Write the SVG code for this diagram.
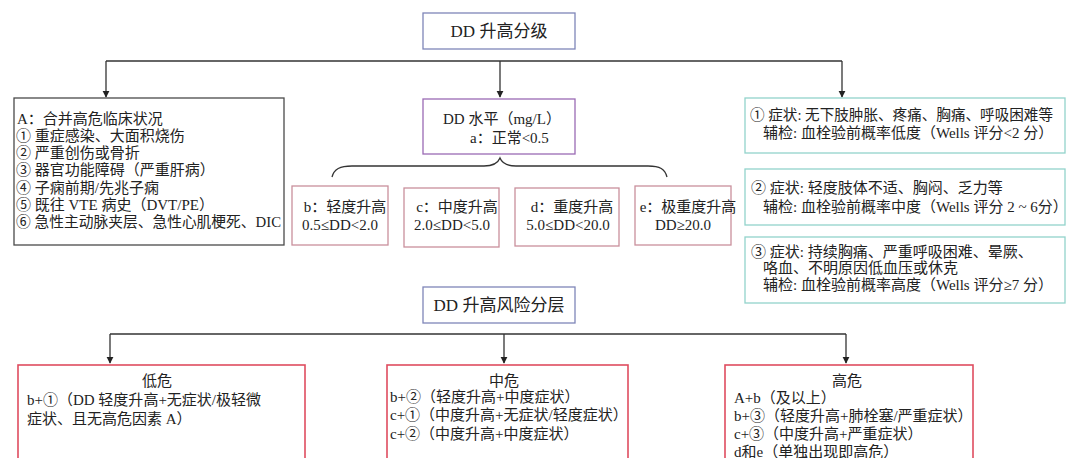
<svg xmlns="http://www.w3.org/2000/svg" width="1080" height="458" viewBox="0 0 1080 458">
<defs>
<style>
text{font-family:"Liberation Serif","Noto Sans CJK SC",serif;fill:#222;font-size:15px}
.t{font-size:17px}
.m{text-anchor:middle}
.box{fill:#fff;stroke-width:1.3}
.title{stroke:#7f86b8}
.purple{stroke:#9a6ab4}
.gray{stroke:#4a4a4a}
.teal{stroke:#92d3cb}
.pink{stroke:#c9909c}
.red{stroke:#df4d5f;stroke-width:1.6}
.ln{fill:none;stroke:#333;stroke-width:1.3}
</style>
<marker id="ah" viewBox="0 0 10 10" refX="9" refY="5" markerWidth="7" markerHeight="8" markerUnits="userSpaceOnUse" orient="auto">
<path d="M0,0 L10,5 L0,10 z" fill="#222"/>
</marker>
</defs>
<rect width="1080" height="458" fill="#fff"/>

<g id="connectors">
<path class="ln" d="M106,61 H842"/>
<path class="ln" d="M106,61 V97" marker-end="url(#ah)"/>
<path class="ln" d="M500,61 V97" marker-end="url(#ah)"/>
<path class="ln" d="M842,61 V97" marker-end="url(#ah)"/>
<path class="ln" d="M332,177 C334,169 340,166 352,166 L484,166 C494,166 498,163 500,158 C502,163 506,166 516,166 L648,166 C660,166 665,169 667,177"/>
<path class="ln" d="M110,334 H846"/>
<path class="ln" d="M110,334 V363" marker-end="url(#ah)"/>
<path class="ln" d="M504,334 V363" marker-end="url(#ah)"/>
<path class="ln" d="M846,334 V363" marker-end="url(#ah)"/>
</g>

<g id="title-grading">
<rect class="box title" x="423" y="13" width="152" height="36"/>
<text class="t m" x="499" y="37">DD 升高分级</text>
</g>

<g id="node-A">
<rect class="box gray" x="14" y="98" width="270" height="147"/>
<text x="17" y="124">A：合并高危临床状况</text>
<text x="16" y="141">① 重症感染、大面积烧伤</text>
<text x="16" y="158">② 严重创伤或骨折</text>
<text x="16" y="175">③ 器官功能障碍（严重肝病）</text>
<text x="16" y="193">④ 子痫前期/先兆子痫</text>
<text x="16" y="210">⑤ 既往 VTE 病史（DVT/PE）</text>
<text x="16" y="227" textLength="265" lengthAdjust="spacingAndGlyphs">⑥ 急性主动脉夹层、急性心肌梗死、DIC</text>
</g>

<g id="node-level">
<rect class="box purple" x="423" y="99" width="152" height="55"/>
<text x="443" y="124">DD 水平（mg/L）</text>
<text x="470" y="143">a：正常&lt;0.5</text>
</g>

<g id="node-b">
<rect class="box pink" x="292" y="186" width="96" height="59"/>
<text class="m" x="345" y="212">b：轻度升高</text>
<text class="m" x="340" y="230">0.5≤DD&lt;2.0</text>
</g>
<g id="node-c">
<rect class="box pink" x="404" y="188" width="95" height="59"/>
<text class="m" x="457" y="212">c：中度升高</text>
<text class="m" x="452" y="230">2.0≤DD&lt;5.0</text>
</g>
<g id="node-d">
<rect class="box pink" x="515" y="188" width="104" height="58"/>
<text class="m" x="572" y="212">d：重度升高</text>
<text class="m" x="568" y="230">5.0≤DD&lt;20.0</text>
</g>
<g id="node-e">
<rect class="box pink" x="635" y="186" width="96" height="59"/>
<text class="m" x="688" y="212">e：极重度升高</text>
<text class="m" x="683" y="230">DD≥20.0</text>
</g>

<g id="node-s1">
<rect class="box teal" x="745" y="98" width="320" height="55"/>
<text x="750" y="120" textLength="303" lengthAdjust="spacingAndGlyphs">① 症状: 无下肢肿胀、疼痛、胸痛、呼吸困难等</text>
<text x="763" y="138">辅检: 血栓验前概率低度（Wells 评分&lt;2 分）</text>
</g>
<g id="node-s2">
<rect class="box teal" x="745" y="169" width="320" height="56"/>
<text x="751" y="193">② 症状: 轻度肢体不适、胸闷、乏力等</text>
<text x="763" y="212">辅检: 血栓验前概率中度（Wells 评分 2 ~ 6分）</text>
</g>
<g id="node-s3">
<rect class="box teal" x="745" y="237" width="320" height="66"/>
<text x="751" y="257">③ 症状: 持续胸痛、严重呼吸困难、晕厥、</text>
<text x="763" y="273">咯血、不明原因低血压或休克</text>
<text x="763" y="290">辅检: 血栓验前概率高度（Wells 评分≥7 分）</text>
</g>

<g id="title-risk">
<rect class="box title" x="423" y="287" width="152" height="36"/>
<text class="t m" x="499" y="311">DD 升高风险分层</text>
</g>

<g id="node-low">
<rect class="box red" x="18" y="365" width="287" height="110"/>
<text class="m" x="157" y="386">低危</text>
<text x="27" y="405">b+①（DD 轻度升高+无症状/极轻微</text>
<text x="27" y="424">症状、且无高危因素 A）</text>
</g>
<g id="node-mid">
<rect class="box red" x="387" y="365" width="241" height="110"/>
<text class="m" x="504" y="386">中危</text>
<text x="390" y="402">b+②（轻度升高+中度症状）</text>
<text x="390" y="420">c+①（中度升高+无症状/轻度症状）</text>
<text x="390" y="439">c+②（中度升高+中度症状）</text>
</g>
<g id="node-high">
<rect class="box red" x="725" y="365" width="248" height="110"/>
<text class="m" x="847" y="386">高危</text>
<text x="734" y="403">A+b（及以上）</text>
<text x="734" y="421">b+③（轻度升高+肺栓塞/严重症状）</text>
<text x="734" y="439">c+③（中度升高+严重症状）</text>
<text x="734" y="457">d和e（单独出现即高危）</text>
</g>
</svg>
